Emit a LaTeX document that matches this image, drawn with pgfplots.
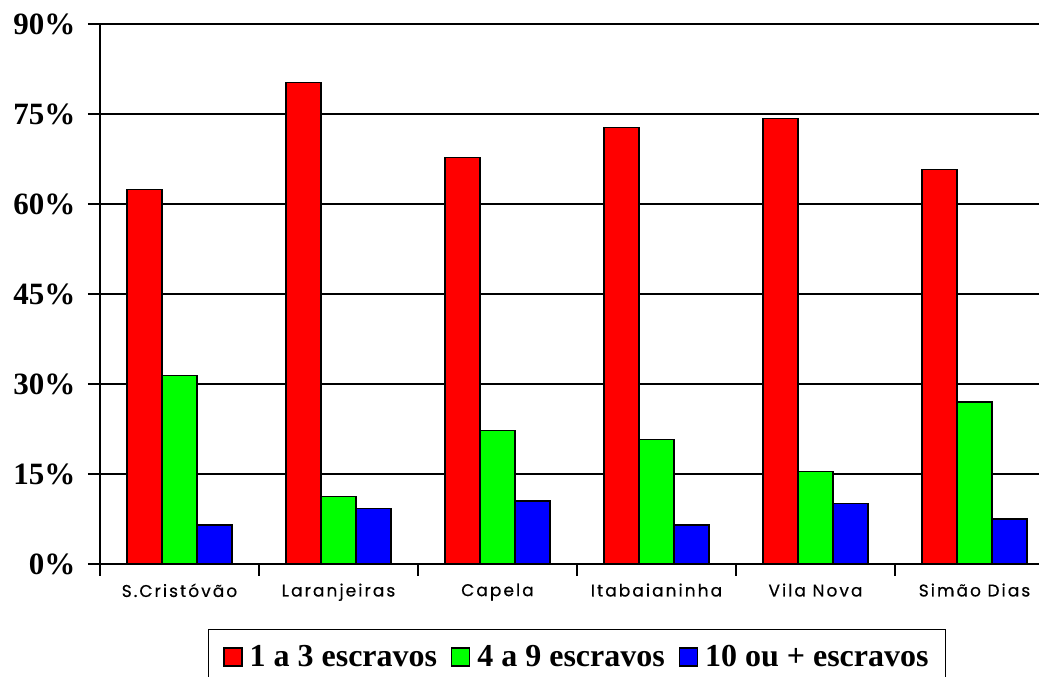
\documentclass[border=0pt]{standalone}
\usepackage{pgfplots}
\pgfplotsset{compat=1.18}
\usepackage{fontspec}
\setmainfont{Liberation Serif}
\newfontfamily\xfont[LetterSpace=12, FakeBold=0.5]{Poppins}
\begin{document}
\begin{tikzpicture}
\begin{axis}[
  at={(0pt,0pt)}, anchor=south west,
  scale only axis,
  width=954pt, height=540pt,
  xmin=-0.5, xmax=5.5,
  ymin=0, ymax=90,
  ybar=0pt, bar width=35pt,
  axis x line=bottom, axis y line=left,
  axis line style={-, line width=1.4pt, black},
  ytick={0,15,30,45,60,75,90},
  yticklabels={0\%,15\%,30\%,45\%,60\%,75\%,90\%},
  yticklabel style={font=\fontsize{31}{33}\selectfont\bfseries, xshift=-9pt},
  ymajorgrids,
  grid style={line width=1.3pt, black},
  tick align=outside,
  major tick length=12pt,
  tick style={line width=1.3pt, black},
  xtick={-0.5,0.5,1.5,2.5,3.5,4.5,5.5},
  xticklabels={},
  extra x ticks={0,1,2,3,4,5},
  extra x tick labels={S.Cristóvão,Laranjeiras,Capela,Itabaianinha,Vila Nova,Simão Dias},
  extra x tick style={major tick length=0pt, xticklabel style={font=\xfont\fontsize{17}{19}\selectfont, yshift=-16pt}},
  legend columns=3,
  legend style={at={(0.5,0)}, anchor=north, yshift=-65pt, draw=black, line width=1.3pt,
    font=\fontsize{32}{35}\selectfont\bfseries, inner xsep=15pt, inner ysep=14pt,
    /tikz/every odd column/.append style={column sep=5pt},
    /tikz/every even column/.append style={column sep=12pt}},
  legend image code/.code={\draw[#1, draw=black, line width=1.2pt] (0pt,-9pt) rectangle (18pt,9pt);},
  every axis plot/.append style={draw=black, line width=1.3pt},
]
\addplot[fill=red] coordinates {(0,62.4) (1,80.3) (2,67.7) (3,72.7) (4,74.3) (5,65.7)};
\addplot[fill=green] coordinates {(0,31.4) (1,11.2) (2,22.2) (3,20.7) (4,15.4) (5,27.0)};
\addplot[fill=blue] coordinates {(0,6.5) (1,9.2) (2,10.5) (3,6.5) (4,10.05) (5,7.5)};
\legend{1 a 3 escravos,4 a 9 escravos,10 ou + escravos}
\end{axis}
\pgfresetboundingbox
\path[use as bounding box] (-100pt,-113pt) rectangle (939pt,564pt);
\end{tikzpicture}
\end{document}
